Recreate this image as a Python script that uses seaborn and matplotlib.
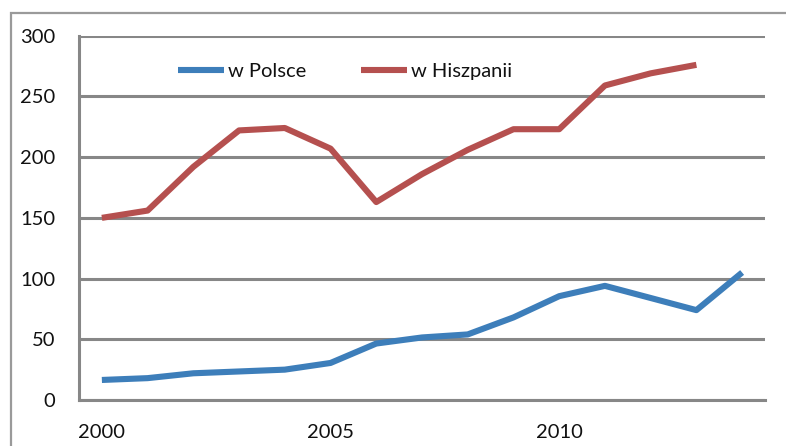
import matplotlib
matplotlib.use("Agg")
import matplotlib.pyplot as plt
from matplotlib.patches import Rectangle
import numpy as np
import pandas as pd
import seaborn as sns

# Data
years = list(range(2000, 2015))
w_polsce = [16.5, 18, 22, 23.5, 25, 30.5, 46.5, 51.5, 54, 68, 85.5, 94, 84, 74, 105]
w_hiszpanii = [150, 156, 192, 222, 224, 207, 163, 186, 206, 223, 223, 259, 269, 276, np.nan]
series_names = ["w Polsce", "w Hiszpanii"]
x_labels = ["2000", "2005", "2010"]
y_ticks = [0, 50, 100, 150, 200, 250, 300]

idx = np.arange(len(years))
df = pd.DataFrame({
    "pos": np.concatenate([idx, idx]),
    "value": w_polsce + w_hiszpanii,
    "series": [series_names[0]] * len(years) + [series_names[1]] * len(years),
})

sns.set_theme(style="white")
plt.rcParams["font.family"] = ["Lato", "DejaVu Sans"]

grey = "#878787"
palette = {series_names[0]: "#3D7EBA", series_names[1]: "#B5504F"}
fs = 14.5

fig = plt.figure(figsize=(7.86, 4.46), dpi=100)
ax = fig.add_axes([79 / 786, 1 - 400 / 446, (765 - 79) / 786, (400 - 35.7) / 446])

# outer chart frame
fig.patches.append(Rectangle((11 / 786, -0.2), 1.2, 1 - 13 / 446 + 0.2,
                             transform=fig.transFigure, fill=False,
                             edgecolor="#9a9a9a", linewidth=1.6, zorder=0))

sns.lineplot(data=df, x="pos", y="value", hue="series", palette=palette,
             linewidth=4.4, ax=ax, legend=True, solid_capstyle="butt")

ax.set_xlim(-0.5, len(years) - 0.5)
ax.set_ylim(0, 300)
ax.set_yticks(y_ticks)
ax.set_yticklabels([str(v) for v in y_ticks])
ax.yaxis.grid(True, color=grey, linewidth=2.2)
ax.set_axisbelow(True)

# category boundaries carry the tick marks, labels sit on the categories
ax.set_xticks(np.arange(-0.5, len(years)), labels=[""] * (len(years) + 1))
label_pos = [years.index(int(t)) for t in x_labels]
ax.set_xticks(label_pos, labels=x_labels, minor=True)
ax.tick_params(axis="x", which="major", length=7, width=2, color=grey, direction="out")
ax.tick_params(axis="x", which="minor", length=0, pad=17, labelsize=fs, labelcolor="#111111")
ax.tick_params(axis="y", length=9, width=2, color=grey, direction="out", pad=8,
               labelsize=fs, labelcolor="#111111")

for side in ["top", "right"]:
    ax.spines[side].set_visible(False)
for side in ["left", "bottom"]:
    ax.spines[side].set_color(grey)
    ax.spines[side].set_linewidth(2.2)

ax.set_xlabel("")
ax.set_ylabel("")

leg = ax.legend(loc="center", bbox_to_anchor=(0.388, 0.903), ncol=2, frameon=False,
                fontsize=fs, handlelength=2.3, handletextpad=0.2, columnspacing=2.7,
                borderpad=0, borderaxespad=0)
for line in leg.get_lines():
    line.set_linewidth(4.4)
for t in leg.get_texts():
    t.set_color("#111111")

fig.savefig("out.png", dpi=100)
